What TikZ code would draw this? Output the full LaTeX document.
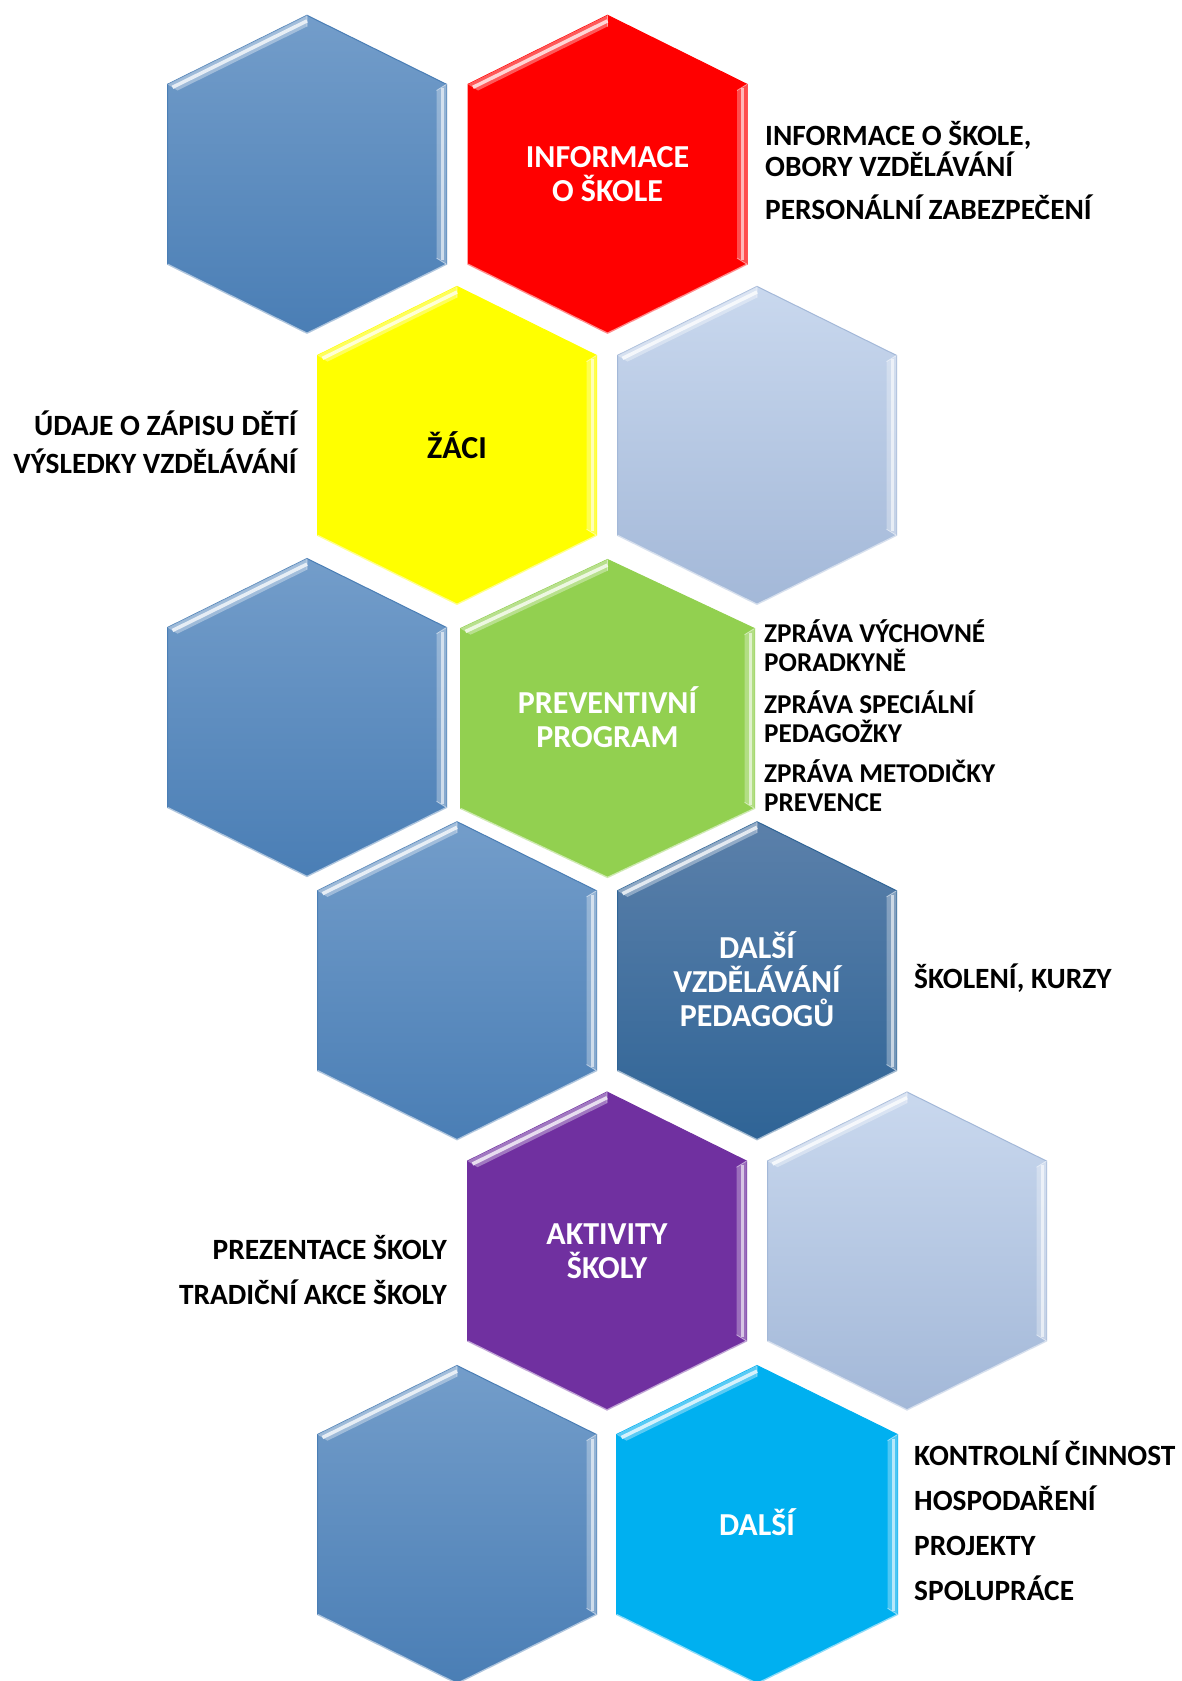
\documentclass[tikz,border=0pt]{standalone}
\usepackage{fontspec}
\setmainfont{Carlito}
\definecolor{hbT}{HTML}{739DCA}
\definecolor{hbB}{HTML}{4A7EB5}
\definecolor{lbT}{HTML}{C9D8EE}
\definecolor{lbB}{HTML}{A3B8D8}
\definecolor{dbT}{HTML}{5B80AA}
\definecolor{dbB}{HTML}{2F6496}
\definecolor{hRed}{HTML}{FF0000}
\definecolor{hYellow}{HTML}{FFFF00}
\definecolor{hGreen}{HTML}{92D050}
\definecolor{hPurple}{HTML}{7030A0}
\definecolor{hCyan}{HTML}{00B0F0}
\newcommand\HexCell[5]{%
\begin{scope}[shift={(#1,#2)}]
\path[top color=#4,bottom color=#5,draw=#5,line width=1pt]
 (0,-159)--(#3,-90)--(#3,90)--(0,159)--(-#3,90)--(-#3,-90)--cycle;
\fill[white,opacity=.35] (-#3,-90)--(0,-159)--(0,-147.8)--({-#3+10},-83.8)--cycle;
\draw[white,opacity=.75,line width=3.5pt] ({-#3+5},-87)--(0,-153.4);
\fill[white,opacity=.3] (#3,-90)--(#3,90)--({#3-10},83.8)--({#3-10},-83.8)--cycle;
\draw[white,opacity=.6,line width=3pt] ({#3-4.5},-86)--({#3-4.5},86);
\draw[white,opacity=.5,line width=.8pt] (0,-159)--(0,-147.8) (#3,-90)--({#3-10},-83.8) (#3,90)--({#3-10},83.8);
\draw[white,opacity=.55,line width=1.5pt] (-#3,90)--(0,159)--(#3,90);
\end{scope}}
\begin{document}
\begin{tikzpicture}[x=1pt,y=-1pt,
  hexlab/.style={font=\fontsize{32}{34}\selectfont\bfseries,text=white,align=center,inner sep=0pt},
  sidel/.style={font=\fontsize{29.4}{32}\selectfont\bfseries,text=black,inner sep=0pt,anchor=base west},
  sidesm/.style={font=\fontsize{27.2}{30}\selectfont\bfseries,text=black,inner sep=0pt,anchor=base west},
  sider/.style={font=\fontsize{29.4}{32}\selectfont\bfseries,text=black,inner sep=0pt,anchor=base east}]
\useasboundingbox[fill=white] (0,0) rectangle (1181,1681);
% hexagons
\HexCell{307}{174.3}{139.5}{hbT}{hbB}
\HexCell{607.5}{174.3}{139.5}{hRed}{hRed}
\HexCell{457}{445.4}{139.5}{hYellow}{hYellow}
\HexCell{757}{445.4}{139.5}{lbT}{lbB}
\HexCell{307}{717.5}{139.5}{hbT}{hbB}
\HexCell{607.5}{718.5}{147}{hGreen}{hGreen}
\HexCell{457}{980.7}{139.5}{hbT}{hbB}
\HexCell{757}{980.7}{139.5}{dbT}{dbB}
\HexCell{607}{1251}{139.5}{hPurple}{hPurple}
\HexCell{907}{1251}{139.5}{lbT}{lbB}
\HexCell{457}{1524.5}{139.5}{hbT}{hbB}
\HexCell{757}{1524.5}{140.5}{hCyan}{hCyan}
% hexagon labels
\node[hexlab] (lInfo) at (607.5,174.3) {INFORMACE\\O ŠKOLE};
\node[hexlab,text=black] (lZaci) at (457,445.4) {ŽÁCI};
\node[hexlab] (lPrev) at (607.5,717.5) {PREVENTIVNÍ\\PROGRAM};
\node[hexlab] (lDvp) at (757,979) {DALŠÍ\\VZDĚLÁVÁNÍ\\PEDAGOGŮ};
\node[hexlab] (lAkt) at (607,1251) {AKTIVITY\\ŠKOLY};
\node[hexlab] (lDal) at (757,1522) {DALŠÍ};
% side texts
\node[sidel] (r1a) at (765,145.5) {INFORMACE O ŠKOLE,};
\node[sidel] (r1b) at (765,176) {OBORY VZDĚLÁVÁNÍ};
\node[sidel] (r1c) at (765,219.5) {PERSONÁLNÍ ZABEZPEČENÍ};
\node[sider] (l2a) at (297,435) {ÚDAJE O ZÁPISU DĚTÍ};
\node[sider] (l2b) at (297,473.5) {VÝSLEDKY VZDĚLÁVÁNÍ};
\node[sidesm] (r3a) at (764,642) {ZPRÁVA VÝCHOVNÉ};
\node[sidesm] (r3b) at (764,671) {PORADKYNĚ};
\node[sidesm] (r3c) at (764,713) {ZPRÁVA SPECIÁLNÍ};
\node[sidesm] (r3d) at (764,742) {PEDAGOŽKY};
\node[sidesm] (r3e) at (764,782) {ZPRÁVA METODIČKY};
\node[sidesm] (r3f) at (764,811.5) {PREVENCE};
\node[sidel] (r4a) at (914,988.5) {ŠKOLENÍ, KURZY};
\node[sider] (l5a) at (447,1259.5) {PREZENTACE ŠKOLY};
\node[sider] (l5b) at (447,1304.5) {TRADIČNÍ AKCE ŠKOLY};
\node[sidel] (r6a) at (914,1465) {KONTROLNÍ ČINNOST};
\node[sidel] (r6b) at (914,1510) {HOSPODAŘENÍ};
\node[sidel] (r6c) at (914,1555) {PROJEKTY};
\node[sidel] (r6d) at (914,1600) {SPOLUPRÁCE};
\end{tikzpicture}
\end{document}
